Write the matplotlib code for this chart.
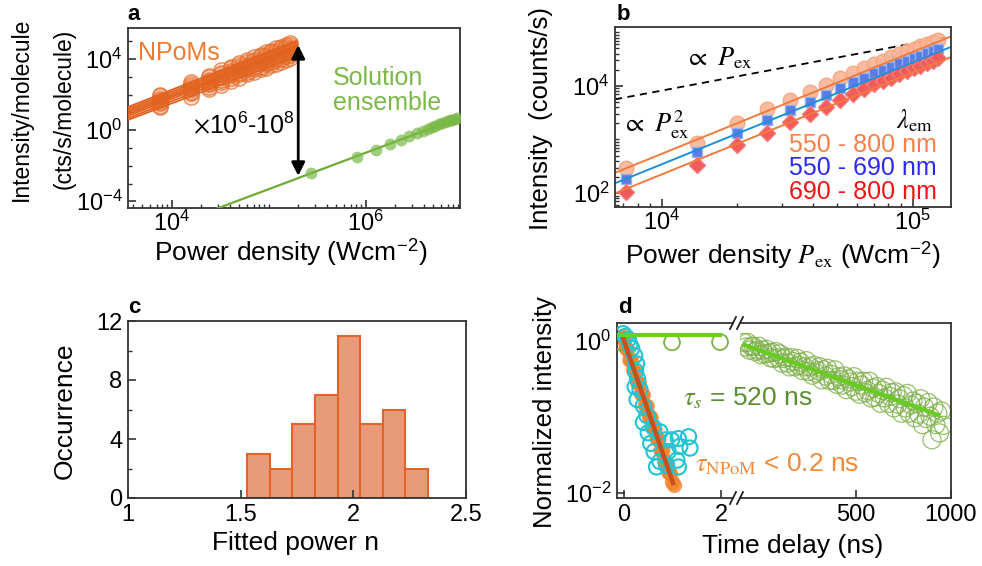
import numpy as np
import matplotlib
matplotlib.use('Agg')
import matplotlib.pyplot as plt
from matplotlib.ticker import FixedLocator, LogLocator, NullLocator, NullFormatter
from matplotlib.lines import Line2D

plt.rcParams['font.family'] = ['Liberation Sans', 'DejaVu Sans']
plt.rcParams['mathtext.fontset'] = 'stix'
plt.rcParams['axes.linewidth'] = 1.3
plt.rcParams['axes.edgecolor'] = '#333333'

# ---------------- panel a: intensity per molecule ----------------
npom_power = [7.6e3, 1.6e4, 2.4e4, 3.2e4, 4.1e4, 5.0e4, 6.0e4, 7.1e4,
              8.3e4, 9.5e4, 1.07e5, 1.2e5, 1.35e5, 1.5e5, 1.65e5]
# log10 intensity of each NPoM at the powers above
npom_log = [
    [1.29, 1.90, 2.33, 2.55, 2.79, 2.94, 3.15, 3.26, 3.44, 3.52, 3.66, 3.73, 3.86, 3.94, 4.05],
    [1.36, 2.09, 2.43, 2.74, 2.92, 3.15, 3.28, 3.47, 3.58, 3.75, 3.82, 3.96, 4.04, 4.16, 4.23],
    [1.54, 2.18, 2.61, 2.84, 3.10, 3.25, 3.47, 3.58, 3.77, 3.86, 4.00, 4.07, 4.22, 4.29, 4.40],
    [1.59, 2.33, 2.67, 2.98, 3.16, 3.39, 3.53, 3.72, 3.83, 4.00, 4.06, 4.21, 4.28, 4.42, 4.48],
    [1.73, 2.36, 2.79, 3.02, 3.28, 3.43, 3.64, 3.75, 3.94, 4.03, 4.17, 4.24, 4.38, 4.46, 4.57],
    [1.78, 2.51, 2.85, 3.16, 3.34, 3.57, 3.70, 3.89, 4.00, 4.17, 4.23, 4.38, 4.45, 4.59, 4.65],
    [1.94, 2.58, 3.01, 3.24, 3.50, 3.65, 3.87, 3.98, 4.17, 4.26, 4.40, 4.47, 4.62, 4.69, 4.80],
    [2.00, 2.74, 3.08, 3.39, 3.57, 3.80, 3.94, 4.13, 4.24, 4.41, 4.47, 4.62, 4.69, 4.83, 4.89],
]
# power-law fits: log10 intensity at 3.55e3 W/cm2 and exponent n
npom_fit_a = [0.58, 0.68, 0.80, 0.90, 1.00, 1.10, 1.20, 1.31]
npom_fit_n = [2.07, 2.13, 2.15, 2.15, 2.13, 2.13, 2.15, 2.15]

sol_power = [2.75e5, 8.1e5, 1.29e6, 1.78e6, 2.34e6, 2.82e6, 3.39e6, 3.89e6, 4.37e6,
             4.79e6, 5.25e6, 5.75e6, 6.17e6, 6.61e6, 7.08e6, 7.41e6, 7.76e6, 8.32e6, 8.71e6]
sol_int = [3.8e-3, 3.2e-2, 7.8e-2, 0.17, 0.28, 0.48, 0.68, 0.91, 1.17,
           1.48, 1.82, 2.19, 2.45, 2.82, 3.24, 3.63, 3.98, 4.37, 4.79]
sol_fit_ref, sol_fit_log, sol_fit_n = 2.75e5, -2.42, 2.05

# ---------------- panel b: single NPoM, three detection bands ----------------
b_power = [7.2e3, 1.38e4, 2.0e4, 2.63e4, 3.25e4, 3.88e4, 4.5e4, 5.12e4, 5.75e4, 6.37e4,
           7.0e4, 7.6e4, 8.2e4, 8.85e4, 9.45e4, 1.01e5, 1.07e5, 1.135e5, 1.2e5, 1.26e5]
b_550_800 = [293, 879, 2050, 3700, 5580, 7820, 1.04e4, 1.39e4, 1.73e4, 2.15e4,
             2.55e4, 2.98e4, 3.45e4, 3.93e4, 4.40e4, 4.95e4, 5.46e4, 6.05e4, 6.6e4, 7.3e4]
b_550_690 = [185, 585, 1350, 2300, 3550, 4950, 6780, 9300, 1.17e4, 1.43e4,
             1.73e4, 2.0e4, 2.3e4, 2.67e4, 2.98e4, 3.31e4, 3.66e4, 4.04e4, 4.40e4, 4.89e4]
b_690_800 = [104, 330, 782, 1350, 2140, 2940, 4090, 5460, 6980, 8790,
             1.08e4, 1.24e4, 1.43e4, 1.66e4, 1.91e4, 2.15e4, 2.40e4, 2.67e4, 2.95e4, 3.31e4]
b_fit_at_1e4 = [542, 346, 224]      # fitted intensity at 1e4 W/cm2
b_fit_n = 1.9
b_lin_at_1e4 = 8.2e3               # dashed guide
b_lin_n = 0.88

# ---------------- panel c: histogram of fitted power ----------------
c_edges = [1.53, 1.63, 1.73, 1.83, 1.93, 2.03, 2.13, 2.23, 2.33]
c_counts = [3, 2, 5, 7, 11, 5, 6, 2]

# ---------------- panel d: decays ----------------
npom_t = [-0.04, 0.0, 0.04, 0.08, 0.12, 0.16, 0.20, 0.24, 0.28, 0.32, 0.36, 0.40, 0.44, 0.48,
          0.52, 0.56, 0.60, 0.64, 0.68, 0.72, 0.76, 0.80, 0.84, 0.88, 0.92, 0.96, 1.00, 1.04]
npom_log_d = [0.06, 0.02, -0.09, -0.12, -0.25, -0.27, -0.39, -0.42, -0.55, -0.56, -0.70, -0.71,
              -0.85, -0.86, -0.99, -1.01, -1.14, -1.16, -1.29, -1.30, -1.44, -1.45, -1.59, -1.60,
              -1.73, -1.75, -1.86, -1.90]
cyan_t = [-0.02, 0.03, 0.09, 0.12, 0.16, 0.22, 0.26, 0.24, 0.28, 0.23, 0.33, 0.27, 0.40, 0.47,
          0.40, 0.60, 0.50, 0.74, 0.85, 0.98, 1.12, 1.33, 1.36, 1.15, 0.91, 0.74, 0.88, 1.09,
          1.12, 0.67, 0.55, 0.62]
cyan_y = [1.25, 1.15, 1.05, 0.90, 0.80, 0.64, 0.50, 0.40, 0.32, 0.25, 0.23, 0.17, 0.14, 0.105,
          0.085, 0.074, 0.062, 0.064, 0.050, 0.050, 0.052, 0.055, 0.039, 0.041, 0.035, 0.026,
          0.023, 0.027, 0.022, 0.022, 0.045, 0.035]
npom_fit_t = [-0.04, 1.01]
npom_fit_y = [1.2, 0.0135]

sol_short_t = [-0.08, 0.99, 1.98]
sol_short_y = [0.97, 0.96, 0.97]
sol_flat_t = [-0.2, 1.98]
sol_flat_y = [1.2, 1.2]

sol_long_t = [-90, -80, -70, -60, -50, -40, -30, -20, -10, 0,
              10, 20, 30, 40, 50, 60, 70, 80, 90, 100,
              110, 120, 130, 140, 150, 160, 170, 180, 190, 200,
              210, 220, 230, 240, 250, 260, 270, 280, 290, 300,
              310, 320, 330, 340, 350, 360, 370, 380, 390, 400,
              410, 420, 430, 440, 450, 460, 470, 480, 490, 500,
              510, 520, 530, 540, 550, 560, 570, 580, 590, 600,
              610, 620, 630, 640, 650, 660, 670, 680, 690, 700,
              710, 720, 730, 740, 750, 760, 770, 780, 790, 800,
              810, 820, 830, 840, 850, 860, 870, 880, 890, 900,
              910, 920, 930, 940, 950, 960]
sol_long_log = [-0.02, -0.08, -0.02, -0.12, -0.07, -0.07, -0.14, -0.12, -0.07, -0.18,
                -0.12, -0.17, -0.11, -0.16, -0.22, -0.15, -0.23, -0.14, -0.22, -0.17,
                -0.29, -0.23, -0.21, -0.29, -0.34, -0.22, -0.27, -0.34, -0.23, -0.32,
                -0.28, -0.39, -0.34, -0.26, -0.40, -0.34, -0.45, -0.32, -0.42, -0.39,
                -0.34, -0.51, -0.38, -0.46, -0.36, -0.52, -0.44, -0.52, -0.38, -0.57,
                -0.47, -0.51, -0.58, -0.46, -0.64, -0.50, -0.54, -0.60, -0.47, -0.66,
                -0.53, -0.70, -0.58, -0.53, -0.68, -0.65, -0.53, -0.75, -0.62, -0.74,
                -0.60, -0.69, -0.82, -0.65, -0.75, -0.61, -0.82, -0.73, -0.68, -0.88,
                -0.67, -0.83, -0.76, -0.95, -0.72, -0.88, -0.69, -0.95, -0.84, -0.79,
                -1.01, -0.82, -0.96, -0.76, -1.10, -0.87, -1.02, -0.81, -0.99, -1.30,
                -0.87, -1.10, -0.95, -1.21, -0.92, -1.11]
sol_long_amp, sol_long_tau = 0.743, 480.0
sol_long_fit_range = [-84, 935]

# ---------------- figure ----------------
W, H = 982, 566
fig = plt.figure(figsize=(W / 100, H / 100), dpi=100)


def box(x0, y0, x1, y1):
    return [x0 / W, 1 - y1 / H, (x1 - x0) / W, (y1 - y0) / H]


def style(ax):
    ax.tick_params(which='both', direction='in', labelsize=17, pad=4, color='#333333')
    ax.tick_params(which='major', length=6, width=1.2)
    ax.tick_params(which='minor', length=3, width=1.0)
    ax.xaxis.set_minor_formatter(NullFormatter())
    ax.yaxis.set_minor_formatter(NullFormatter())


def ftext(x, y, s, **kw):
    fig.text(x / W, 1 - y / H, s, **kw)


# ---- a ----
ax = fig.add_axes(box(128, 28, 460, 208))
ax.set_xscale('log')
ax.set_yscale('log')
c_npom = '#E2621F'
xf = np.array([3.55e3, 1.95e5])
for a0, n in zip(npom_fit_a, npom_fit_n):
    ax.plot(xf, 10 ** (a0 + n * np.log10(xf / 3.55e3)), color=c_npom, lw=1.3, zorder=3)
for row in npom_log:
    ax.plot(npom_power, 10 ** np.array(row), 'o', ms=11, mfc=(0.95, 0.55, 0.35, 0.25),
            mec=(0.89, 0.42, 0.16, 0.75), mew=1.0, zorder=2)
xs = np.array([2.5e4, 1e7])
ax.plot(xs, 10 ** (sol_fit_log + sol_fit_n * np.log10(xs / sol_fit_ref)),
        color='#6FAA35', lw=1.6, zorder=3)
ax.plot(sol_power, sol_int, 'o', ms=8.5, mfc=(0.48, 0.72, 0.28, 0.7), mec='none', zorder=4)
ax.annotate('', xy=(2.02e5, 10 ** 4.80), xytext=(2.02e5, 10 ** -2.57),
            arrowprops=dict(arrowstyle='<|-|>', color='black', lw=2, mutation_scale=20,
                            shrinkA=0, shrinkB=0))
ax.set_xlim(3.55e3, 9.4e6)
ax.set_ylim(10 ** -4.38, 10 ** 5.76)
ax.xaxis.set_major_locator(FixedLocator([1e4, 1e6]))
ax.xaxis.set_minor_locator(LogLocator(base=10, subs=np.arange(1, 10), numticks=100))
ax.yaxis.set_major_locator(FixedLocator([1e-4, 1e0, 1e4]))
ax.yaxis.set_minor_locator(FixedLocator([10.0 ** k for k in range(-4, 6)]))
style(ax)
ax.tick_params(axis='x', pad=2)
ax.text(0.030, 0.822, 'NPoMs', transform=ax.transAxes, fontsize=18, color='#F07A30')
ax.text(0.617, 0.683, 'Solution', transform=ax.transAxes, fontsize=18, color='#7DB84A')
ax.text(0.617, 0.544, 'ensemble', transform=ax.transAxes, fontsize=18, color='#7DB84A')
ax.text(0.503, 0.417, r'$\times\mathdefault{10^{6}}$-$\mathdefault{10^{8}}$',
        transform=ax.transAxes, fontsize=18, ha='right')
ftext(21.5, 109, 'Intensity/molecule', rotation=90, ha='center', va='center', fontsize=16.5)
ftext(64, 109, '(cts/s/molecule)', rotation=90, ha='center', va='center', fontsize=16.5)
ftext(291, 252, r'Power density (Wcm$^{\mathdefault{-2}}$)', ha='center', va='center', fontsize=19)
ftext(127, 20, 'a', fontsize=16, fontweight='bold')

# ---- b ----
ax = fig.add_axes(box(615, 27, 951, 207))
ax.set_xscale('log')
ax.set_yscale('log')
xb = np.array([6.5e3, 1.42e5])
fit_cols = ['#F27A3C', '#1E8FD6', '#F27A3C']
ax.plot(xb, b_lin_at_1e4 * (xb / 1e4) ** b_lin_n, '--', color='black', lw=1.3, dashes=(4, 3))
ax.plot(b_power, b_550_800, 'o', ms=10.5, mfc='#F9B596', mec='#F6A57F', mew=1, alpha=0.9)
ax.plot(b_power, b_550_690, 's', ms=7.5, mfc='#5B7BE6', mec='#8DB4F2', mew=1)
ax.plot(b_power, b_690_800, 'D', ms=8, mfc='#F25B5B', mec='#F47A7A', mew=1)
for a0, col in zip(b_fit_at_1e4, fit_cols):
    ax.plot(xb, a0 * (xb / 1e4) ** b_fit_n, color=col, lw=1.4)
ax.set_xlim(6.5e3, 1.42e5)
ax.set_ylim(10 ** 1.74, 10 ** 5.10)
ax.xaxis.set_major_locator(FixedLocator([1e4, 1e5]))
ax.xaxis.set_minor_locator(LogLocator(base=10, subs=np.arange(2, 10), numticks=100))
ax.yaxis.set_major_locator(FixedLocator([1e2, 1e4]))
ax.yaxis.set_minor_locator(LogLocator(base=10, subs=np.arange(1, 10), numticks=100))
style(ax)
ax.tick_params(axis='x', pad=2)
ax.text(0.208, 0.789, r'$\propto\ P_{\mathrm{ex}}$', transform=ax.transAxes, fontsize=19)
ax.text(0.020, 0.417, r'$\propto\ P_{\mathrm{ex}}^{2}$', transform=ax.transAxes, fontsize=19)
ax.text(0.946, 0.439, r'$\lambda_{\mathrm{em}}$', transform=ax.transAxes, fontsize=19, ha='right')
ax.text(0.958, 0.306, '550 - 800 nm', transform=ax.transAxes, fontsize=18, ha='right', color='#F7804A')
ax.text(0.958, 0.178, '550 - 690 nm', transform=ax.transAxes, fontsize=18, ha='right', color='#2B2BF0')
ax.text(0.958, 0.044, '690 - 800 nm', transform=ax.transAxes, fontsize=18, ha='right', color='#F01414')
ftext(541, 118, 'Intensity  (counts/s)', rotation=90, ha='center', va='center', fontsize=18.5)
ftext(783, 255, r'Power density $P_{\mathrm{ex}}$ (Wcm$^{\mathdefault{-2}}$)',
      ha='center', va='center', fontsize=19)
ftext(617, 20, 'b', fontsize=16, fontweight='bold')

# ---- c ----
ax = fig.add_axes(box(128, 321, 466, 498))
ax.bar(c_edges[:-1], c_counts, width=np.diff(c_edges), align='edge',
       color='#E99B79', edgecolor='#E0642C', lw=1.5)
ax.set_xlim(1, 2.5)
ax.set_ylim(0, 12)
ax.set_xticks([1, 1.5, 2, 2.5])
ax.set_xticklabels(['1', '1.5', '2', '2.5'])
ax.set_yticks([0, 4, 8, 12])
ax.yaxis.set_minor_locator(FixedLocator([2, 6, 10]))
style(ax)
ftext(65, 411, 'Occurrence', rotation=90, ha='center', va='center', fontsize=19)
ftext(296, 543, 'Fitted power n', ha='center', va='center', fontsize=19)
ftext(128, 313, 'c', fontsize=16, fontweight='bold')

# ---- d ----
ylo, yhi = 10 ** -2.066, 10 ** 0.237
d1 = fig.add_axes(box(617, 323, 733, 498))
d2 = fig.add_axes(box(740, 323, 951, 498))
for d in (d1, d2):
    d.set_yscale('log')
    d.set_ylim(ylo, yhi)
    style(d)
d1.scatter(npom_t, 10 ** np.array(npom_log_d), s=120, color='#F5822A', alpha=0.85,
           edgecolors='none', zorder=2)
d1.scatter(cyan_t, cyan_y, s=120, facecolors='none', edgecolors='#22C3D3', lw=1.5, zorder=3)
d1.plot(npom_fit_t, npom_fit_y, color='#C8501A', lw=3.2, zorder=4)
d1.scatter(sol_short_t, sol_short_y, s=130, facecolors='none', edgecolors='#7DB04A',
           lw=1.3, zorder=3)
d1.plot(sol_flat_t, sol_flat_y, color='#6CD020', lw=3, zorder=5)
d1.set_xlim(-0.144, 2.247)
d1.set_xticks([0, 2])
d1.yaxis.set_major_locator(FixedLocator([1e-2, 1e0]))
d1.yaxis.set_minor_locator(NullLocator())
d1.spines['right'].set_visible(False)

d2.scatter(sol_long_t, 10 ** np.array(sol_long_log), s=170, facecolors='none',
           edgecolors='#7DB04A', lw=0.9, alpha=0.8, zorder=2)
tl = np.array(sol_long_fit_range, dtype=float)
d2.plot(tl, sol_long_amp * np.exp(-tl / sol_long_tau), color='#66CC22', lw=3, zorder=3)
d2.set_xlim(-110, 1000)
d2.set_xticks([500, 1000])
d2.yaxis.set_major_locator(NullLocator())
d2.yaxis.set_minor_locator(NullLocator())
d2.spines['left'].set_visible(False)

for xb0 in (733, 740):
    for yb0 in (323, 498):
        fig.add_artist(Line2D([(xb0 - 3) / W, (xb0 + 3) / W],
                              [1 - (yb0 + 6) / H, 1 - (yb0 - 6) / H],
                              transform=fig.transFigure, color='#222222', lw=1.3))

ftext(683, 405, r'$\tau_{s}$ = 520 ns', fontsize=19, color='#5A8F32')
ftext(695, 471.7, r'$\tau_{\mathrm{NPoM}}$ < 0.2 ns', fontsize=19, color='#F08A3A')
ftext(545, 412, 'Normalized intensity', rotation=90, ha='center', va='center', fontsize=18.5)
ftext(793, 546, 'Time delay (ns)', ha='center', va='center', fontsize=19)
ftext(618, 313, 'd', fontsize=16, fontweight='bold')

fig.savefig('out.png', dpi=100)
